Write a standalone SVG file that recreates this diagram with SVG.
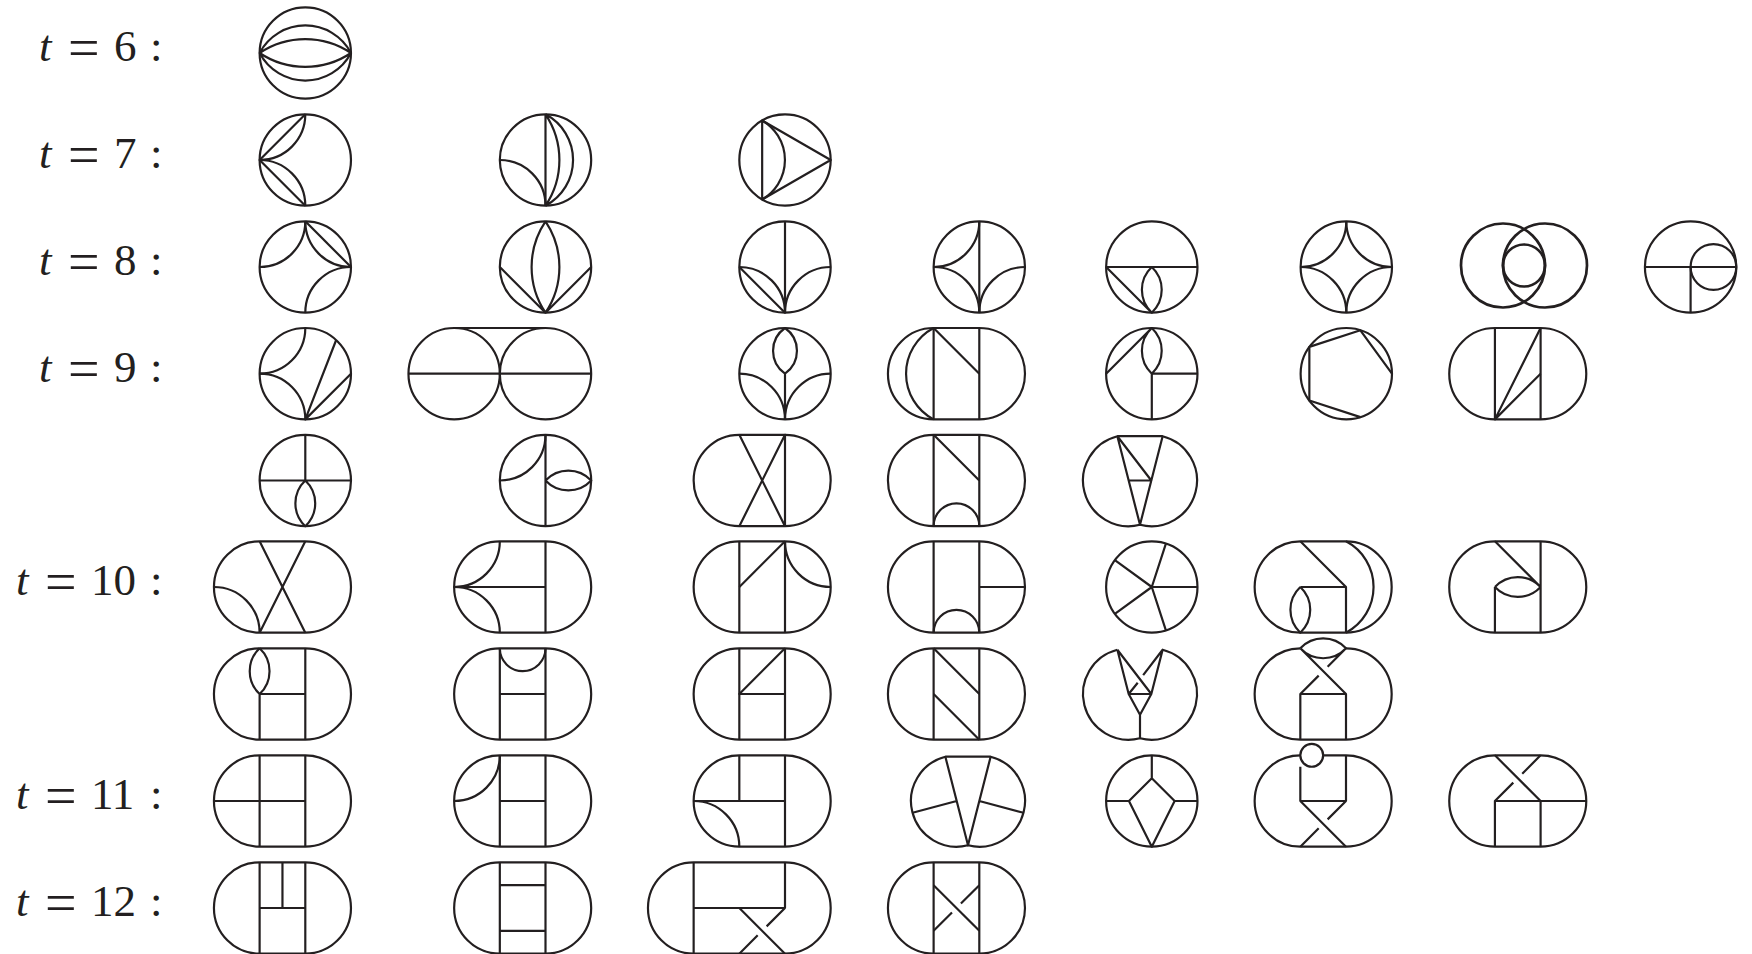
<svg xmlns="http://www.w3.org/2000/svg" xmlns:xlink="http://www.w3.org/1999/xlink" width="1752" height="954" viewBox="0 0 1752 954">
<style>
.f path,.f circle,.f use{fill:none;stroke:#231f20;stroke-width:2.2;stroke-linejoin:round}
.lb{font-family:"Liberation Serif","DejaVu Serif",serif;font-size:45px;fill:#231f20}
.i{font-style:italic}
.eq{font-size:56px}
</style>
<defs>
<circle id="c" r="46"/>
<path id="s" d="M-46-46H0A46 46 0 0 1 0 46H-46A46 46 0 0 1-46-46Z"/>
<path id="tl" d="M0-46A46 46 0 0 1-46 0"/>
<path id="bl" d="M-46 0A46 46 0 0 1 0 46"/>
<path id="tr" d="M46 0A46 46 0 0 1 0-46"/>
<path id="br" d="M0 46A46 46 0 0 1 46 0"/>
<path id="v" d="M-46-46V46M0-46V46"/>
</defs>
<g id="labels">
<text class="lb" y="61"><tspan class="i" x="39">t</tspan> <tspan class="eq" x="68" dy="6">=</tspan> <tspan x="114" dy="-6">6</tspan> <tspan x="150">:</tspan></text>
<text class="lb" y="168"><tspan class="i" x="39">t</tspan> <tspan class="eq" x="68" dy="6">=</tspan> <tspan x="114" dy="-6">7</tspan> <tspan x="150">:</tspan></text>
<text class="lb" y="275"><tspan class="i" x="39">t</tspan> <tspan class="eq" x="68" dy="6">=</tspan> <tspan x="114" dy="-6">8</tspan> <tspan x="150">:</tspan></text>
<text class="lb" y="382"><tspan class="i" x="39">t</tspan> <tspan class="eq" x="68" dy="6">=</tspan> <tspan x="114" dy="-6">9</tspan> <tspan x="150">:</tspan></text>
<text class="lb" y="595"><tspan class="i" x="16">t</tspan> <tspan class="eq" x="45" dy="6">=</tspan> <tspan x="91" dy="-6">10</tspan> <tspan x="150">:</tspan></text>
<text class="lb" y="809"><tspan class="i" x="16">t</tspan> <tspan class="eq" x="45" dy="6">=</tspan> <tspan x="91" dy="-6">11</tspan> <tspan x="150">:</tspan></text>
<text class="lb" y="916"><tspan class="i" x="16">t</tspan> <tspan class="eq" x="45" dy="6">=</tspan> <tspan x="91" dy="-6">12</tspan> <tspan x="150">:</tspan></text>
</g>
<g id="t6-1" class="f" transform="translate(305.3 53) scale(.993)"><use href="#c"/><path d="M-46 0A52 52 0 0 1 46 0A52 52 0 0 1-46 0M-46 0A82.6 82.6 0 0 1 46 0A82.6 82.6 0 0 1-46 0"/></g>

<g id="t7-1" class="f" transform="translate(305.3 160) scale(.993)"><use href="#c"/><use href="#tl"/><use href="#bl"/><path d="M0-46L-46 0L0 46"/></g>
<g id="t7-2" class="f" transform="translate(545.5 160) scale(.993)"><use href="#c"/><use href="#bl"/><path d="M0-46V46M0-46A82.6 82.6 0 0 1 0 46M0-46A52 52 0 0 1 0 46"/></g>
<g id="t7-3" class="f" transform="translate(785 160) scale(.993)"><use href="#c"/><path d="M-23-39.8V39.8L46 0Z"/><path d="M-23-39.8A46 46 0 0 1-23 39.8"/></g>

<g id="t8-1" class="f" transform="translate(305.3 267) scale(.993)"><use href="#c"/><use href="#tl"/><use href="#tr"/><use href="#br"/><path d="M0-46L46 0"/></g>
<g id="t8-2" class="f" transform="translate(545.5 267) scale(.993)"><use href="#c"/><path d="M0-46A82.6 82.6 0 0 1 0 46A82.6 82.6 0 0 1 0-46M-46 0L0 46L46 0"/></g>
<g id="t8-3" class="f" transform="translate(785 267) scale(.993)"><use href="#c"/><use href="#bl"/><use href="#br"/><path d="M0-46V46L-46 0"/></g>
<g id="t8-4" class="f" transform="translate(979.3 267) scale(.993)"><use href="#c"/><use href="#tl"/><use href="#bl"/><use href="#br"/><path d="M0-46V46"/></g>
<g id="t8-5" class="f" transform="translate(1151.8 267) scale(.993)"><use href="#c"/><path d="M-46 0H46M-46 0L0 46M0 0A31.5 31.5 0 0 1 0 46A31.5 31.5 0 0 1 0 0"/></g>
<g id="t8-6" class="f" transform="translate(1346.3 267) scale(.993)"><use href="#c"/><use href="#tl"/><use href="#tr"/><use href="#bl"/><use href="#br"/></g>
<g id="t8-7" class="f" transform="translate(1524 265.5)" style="--w:2.6"><circle cx="-21" r="42" style="stroke-width:2.7"/><circle cx="21" r="42" style="stroke-width:2.7"/><circle r="21" style="stroke-width:2.7"/></g>
<g id="t8-8" class="f" transform="translate(1690.6 267) scale(.993)"><use href="#c"/><circle cx="23" r="23"/><path d="M-46 0H0V46"/><path d="M0 0H46"/></g>

<g id="t9-1" class="f" transform="translate(305.3 373.7) scale(.993)"><use href="#c"/><use href="#tl"/><use href="#bl"/><path d="M31-33.7L0 46L46 0"/></g>
<g id="t9-2" class="f" transform="translate(545.5 373.7) scale(.993)"><use href="#c"/><circle cx="-92" r="46"/><path d="M-138 0H46M-92-46H0"/></g>
<g id="t9-3" class="f" transform="translate(785 373.7) scale(.993)"><use href="#c"/><use href="#bl"/><use href="#br"/><path d="M0 0V46M0-46A28 28 0 0 1 0 0A28 28 0 0 1 0-46"/></g>
<g id="t9-4" class="f" transform="translate(979.3 373.7) scale(.993)"><use href="#s"/><use href="#v"/><path d="M-46-46L0 0M-46-46A52 52 0 0 0-46 46"/></g>
<g id="t9-5" class="f" transform="translate(1151.8 373.7) scale(.993)"><use href="#c"/><path d="M-46 0L0-46M46 0H0V46M0-46A31.5 31.5 0 0 1 0 0A31.5 31.5 0 0 1 0-46"/></g>
<g id="t9-6" class="f" transform="translate(1346.3 373.7) scale(.993)"><use href="#c"/><path d="M46 0L14.2-43.7L-37.2-27V27L14.2 43.7"/></g>
<g id="t9-7" class="f" transform="translate(1540.6 373.7) scale(.993)"><use href="#s"/><use href="#v"/><path d="M0-46L-46 46L0 0"/></g>

<g id="t9b-1" class="f" transform="translate(305.3 480.5) scale(.993)"><use href="#c"/><path d="M0-46V0M-46 0H46M0 0A31.5 31.5 0 0 1 0 46A31.5 31.5 0 0 1 0 0"/></g>
<g id="t9b-2" class="f" transform="translate(545.5 480.5) scale(.993)"><use href="#c"/><use href="#tl"/><path d="M0-46V46M0 0A31.5 31.5 0 0 1 46 0A31.5 31.5 0 0 1 0 0"/></g>
<g id="t9b-3" class="f" transform="translate(785 480.5) scale(.993)"><use href="#s"/><path d="M-46-46L0 46M-46 46L0-46V46"/></g>
<g id="t9b-4" class="f" transform="translate(979.3 480.5) scale(.993)"><use href="#s"/><use href="#v"/><path d="M-46-46L0 0M-46 46A23 23 0 0 1 0 46"/></g>
<g id="t9b-5" class="f" transform="translate(1140 480.5) scale(.993)"><path d="M-22.8-44.6A46 46 0 0 0 0 44.6A46 46 0 0 0 22.8-44.6Z"/><path d="M-22.8-44.6L0 44.6L22.8-44.6M-22.8-44.6L11.4 0H-11.4"/></g>

<g id="t10-1" class="f" transform="translate(305.3 587) scale(.993)"><use href="#s"/><path d="M-46-46L0 46M0-46L-46 46M-92 0A46 46 0 0 1-46 46"/></g>
<g id="t10-2" class="f" transform="translate(545.5 587) scale(.993)"><use href="#s"/><path d="M0-46V46M-92 0H0M-46-46A46 46 0 0 1-92 0A46 46 0 0 1-46 46"/></g>
<g id="t10-3" class="f" transform="translate(785 587) scale(.993)"><use href="#s"/><use href="#v"/><use href="#tr"/><path d="M-46 0L0-46"/></g>
<g id="t10-4" class="f" transform="translate(979.3 587) scale(.993)"><use href="#s"/><use href="#v"/><path d="M0 0H46M-46 46A23 23 0 0 1 0 46"/></g>
<g id="t10-5" class="f" transform="translate(1151.8 587) scale(.993)"><use href="#c"/><path d="M46 0H0L14.2-43.7M0 0L14.2 43.7M0 0L-37.2-27M0 0L-37.2 27"/></g>
<g id="t10-6" class="f" transform="translate(1346 587) scale(.993)"><use href="#s"/><path d="M-46-46L0 0V46M0 0H-46M-46 0A31.5 31.5 0 0 0-46 46A31.5 31.5 0 0 0-46 0M0-46A52 52 0 0 1 0 46"/></g>
<g id="t10-7" class="f" transform="translate(1540.6 587) scale(.993)"><use href="#s"/><path d="M0-46V46M-46-46L0 0M-46 0V46M-46 0A31.5 31.5 0 0 1 0 0A31.5 31.5 0 0 1-46 0"/></g>

<g id="t10b-1" class="f" transform="translate(305.3 694) scale(.993)"><use href="#s"/><path d="M0-46V46M-46 46V0H0M-46-46A31.5 31.5 0 0 1-46 0A31.5 31.5 0 0 1-46-46"/></g>
<g id="t10b-2" class="f" transform="translate(545.5 694) scale(.993)"><use href="#s"/><use href="#v"/><path d="M-46 0H0M-46-46A23 23 0 0 0 0-46"/></g>
<g id="t10b-3" class="f" transform="translate(785 694) scale(.993)"><use href="#s"/><use href="#v"/><path d="M0 0H-46L0-46"/></g>
<g id="t10b-4" class="f" transform="translate(979.3 694) scale(.993)"><use href="#s"/><use href="#v"/><path d="M-46-46L0 0M-46 0L0 46"/></g>
<g id="t10b-5" class="f" transform="translate(1140 694) scale(.993)"><path d="M-22.8-44.6A46 46 0 0 0 0 44.6A46 46 0 0 0 22.8-44.6"/><path d="M-22.8-44.6L-11.4 0L0 21L11.4 0L22.8-44.6L3.2-19M-2.3-11.3L-11.4 0H11.4L-22.8-44.6M0 21V44.6"/></g>
<g id="t10b-6" class="f" transform="translate(1346 694) scale(.993)"><path d="M-46-46A46 46 0 0 0-46 46H0A46 46 0 0 0 0-46"/><path d="M-46-46L0 0H-46V46M0 0V46M0-46L-18.5-27.5M-27.5-18.5L-46 0M-46-46A31.5 31.5 0 0 1 0-46A31.5 31.5 0 0 1-46-46"/></g>

<g id="t11-1" class="f" transform="translate(305.3 801) scale(.993)"><use href="#s"/><use href="#v"/><path d="M-92 0H0"/></g>
<g id="t11-2" class="f" transform="translate(545.5 801) scale(.993)"><use href="#s"/><use href="#v"/><path d="M-46 0H0M-46-46A46 46 0 0 1-92 0"/></g>
<g id="t11-3" class="f" transform="translate(785 801) scale(.993)"><use href="#s"/><path d="M-46-46V0M0-46V46M-92 0H0M-92 0A46 46 0 0 1-46 46"/></g>
<g id="t11-4" class="f" transform="translate(968 801) scale(.993)"><path d="M-22.8-44.6A46 46 0 0 0 0 44.6A46 46 0 0 0 22.8-44.6Z"/><path d="M-22.8-44.6L0 44.6L22.8-44.6M-11.4 0L-55.8 11.9M11.4 0L55.8 11.9"/></g>
<g id="t11-5" class="f" transform="translate(1151.8 801) scale(.993)"><use href="#c"/><path d="M0-46V-23L23 0L0 46L-23 0L0-23M-46 0H-23M23 0H46"/></g>
<g id="t11-6" class="f" transform="translate(1346 801) scale(.993)"><path d="M-46-46A46 46 0 0 0-46 46H0A46 46 0 0 0 0-46H-23"/><circle cx="-34.5" cy="-46" r="11.5"/><path d="M-46-34.5V0H0V-46M-46 0L0 46M0 0L-18.5 18.5M-27.5 27.5L-46 46"/></g>
<g id="t11-7" class="f" transform="translate(1540.6 801) scale(.993)"><use href="#s"/><path d="M-46-46L0 0M0-46L-18.5-27.5M-27.5-18.5L-46 0V46M0 0V46M-46 0H46"/></g>

<g id="t12-1" class="f" transform="translate(305.3 908) scale(.993)"><use href="#s"/><use href="#v"/><path d="M-46 0H0M-23-46V0"/></g>
<g id="t12-2" class="f" transform="translate(545.5 908) scale(.993)"><use href="#s"/><use href="#v"/><path d="M-46-23H0M-46 23H0"/></g>
<g id="t12-3" class="f" transform="translate(785 908) scale(.993)"><path d="M-92-46H0A46 46 0 0 1 0 46H-92A46 46 0 0 1-92-46Z"/><path d="M-92-46V46M0-46V0H-92M-46 0L0 46M0 0L-18.5 18.5M-27.5 27.5L-46 46"/></g>
<g id="t12-4" class="f" transform="translate(979.3 908) scale(.993)"><use href="#s"/><use href="#v"/><path d="M-46-23L0 23M0-23L-18.5-4.5M-27.5 4.5L-46 23"/></g>
</svg>
